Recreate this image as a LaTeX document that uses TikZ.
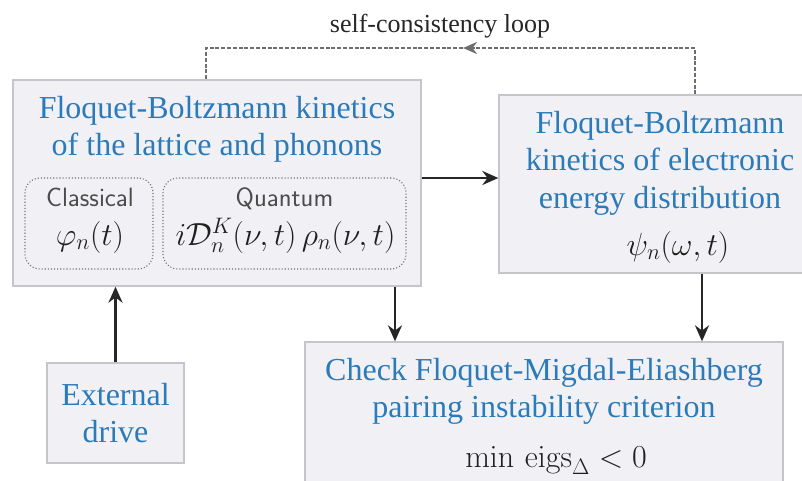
\RequirePackage{fix-cm}
\documentclass[tikz,border=0pt]{standalone}
\usepackage[no-math]{fontspec}
\setmainfont{Liberation Serif}
\usetikzlibrary{arrows.meta}
\definecolor{boxfill}{HTML}{F1F1F5}
\definecolor{boxline}{HTML}{C6C6CA}
\definecolor{tblue}{HTML}{2B7BBA}
\definecolor{loopgray}{HTML}{6E6E6E}
\definecolor{arrdark}{HTML}{262626}
\begin{document}
\begin{tikzpicture}[x=1pt,y=-1pt,
  panel/.style={draw=boxline,fill=boxfill,line width=1.3pt,inner sep=0pt},
  dotbox/.style={draw=black!55,dotted,line width=1.1pt,rounded corners=15pt,inner sep=0pt},
  ttl/.style={text=tblue,font=\fontsize{32}{38}\selectfont,anchor=base,inner sep=0pt},
  mth/.style={text=black!88,font=\fontsize{32}{38}\selectfont,anchor=base,inner sep=0pt},
  slab/.style={text=black!70,font=\sffamily\fontsize{26.5}{30}\selectfont,anchor=base,inner sep=0pt},
  arr/.style={draw=arrdark,line width=2.6pt,-{Stealth[length=16pt,width=14pt]}},
  loopline/.style={draw=loopgray,line width=2.5pt,dash pattern=on 4pt off 1.8pt}]
\clip (0,0) rectangle (802,480);
% panels
\node[panel,minimum width=408pt,minimum height=206pt] (lat) at (217,183) {};
\node[panel,minimum width=322pt,minimum height=178pt] (ele) at (660,184) {};
\node[panel,minimum width=478pt,minimum height=160pt] (mig) at (544,422) {};
\node[panel,minimum width=137pt,minimum height=100pt] (ext) at (115.5,413) {};
\node[dotbox,minimum width=128pt,minimum height=91pt] (cls) at (89,223.5) {};
\node[dotbox,minimum width=243pt,minimum height=91pt] (qnt) at (284.5,223.5) {};
% texts
\node[ttl] (l1) at (217,118) {Floquet-Boltzmann kinetics};
\node[ttl] (l2) at (217,155) {of the lattice and phonons};
\node[slab] (c1) at (90,206) {Classical};
\node[mth] (c2) at (90,245) {$\varphi_n(t)$};
\node[slab] (q1) at (284.5,206) {Quantum};
\node[mth] (q2) at (285.5,245) {$i\mathcal{D}^K_n(\nu,t)\,\rho_n(\nu,t)$};
\node[ttl] (r1) at (660,133) {Floquet-Boltzmann};
\node[ttl] (r2) at (660,170) {kinetics of electronic};
\node[ttl] (r3) at (660,208) {energy distribution};
\node[mth] (r4) at (678,255) {$\psi_n(\omega,t)$};
\node[ttl] (m1) at (544,380) {Check Floquet-Migdal-Eliashberg};
\node[ttl] (m2) at (544,417) {pairing instability criterion};
\node[mth] (m3) at (556,467) {$\min\,\mathrm{eigs}_\Delta < 0$};
\node[ttl] (e1) at (115.5,405) {External};
\node[ttl] (e2) at (115.5,442) {drive};
\node[text=black!85,font=\fontsize{26}{30}\selectfont,anchor=base,inner sep=0pt] (lbl) at (440,32) {self-consistency loop};
% helper coordinates
\coordinate (xa) at (395,0);
\coordinate (xb) at (702,0);
\coordinate (ya) at (0,178);
\coordinate (xl) at (206,0);
\coordinate (xr) at (695,0);
\coordinate (xm) at (463,0);
\coordinate (yl) at (0,48);
\coordinate (lp1) at (xr |- yl);
\coordinate (lp2) at (xm |- yl);
\coordinate (lp3) at (xl |- yl);
% connectors
\draw[arr] (lat.east |- ya) -- (ele.west |- ya);
\draw[arr] (lat.south -| xa) -- (mig.north -| xa);
\draw[arr] (ele.south -| xb) -- (mig.north -| xb);
\draw[arr] (ext.north) -- (lat.south -| ext.north);
\draw[loopline,-{Stealth[length=14pt,width=12pt,fill=loopgray]}] (ele.north -| xr) -- (lp1) -- (lp2);
\draw[loopline] (lp2) -- (lp3) -- (lat.north -| xl);
\end{tikzpicture}
\end{document}
